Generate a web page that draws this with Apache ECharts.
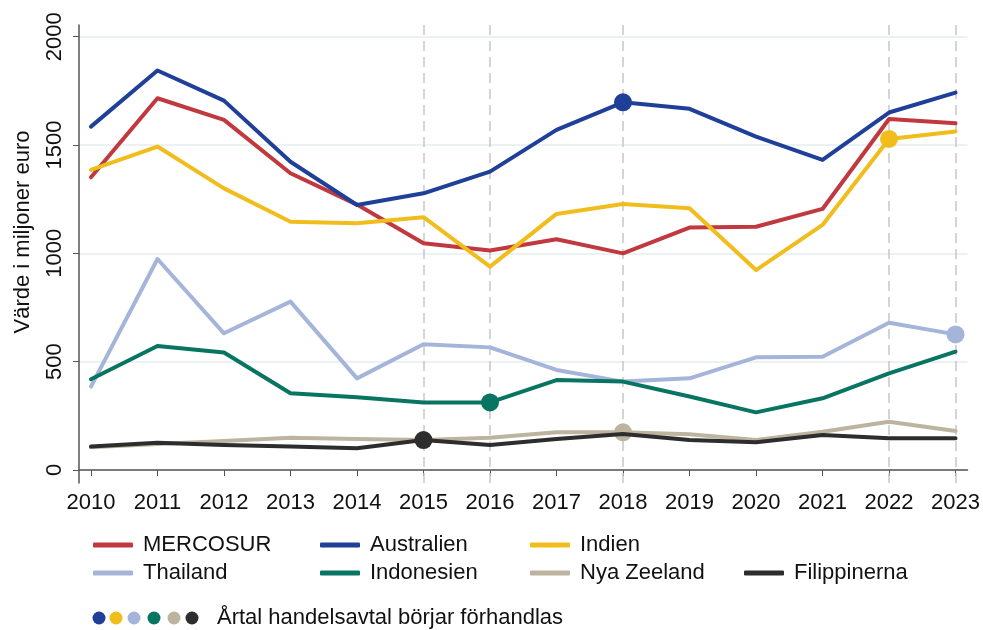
<!DOCTYPE html>
<html>
<head>
<meta charset="utf-8">
<script src="https://cdn.jsdelivr.net/npm/echarts@6/dist/echarts.min.js"></script>
<style>
html,body{margin:0;padding:0;background:#fff;}
#chart{width:983px;height:630px;}
</style>
</head>
<body>
<div id="chart"></div>
<script>
const years = [2010,2011,2012,2013,2014,2015,2016,2017,2018,2019,2020,2021,2022,2023];
const yTicks = [0,500,1000,1500,2000];
const seriesNames = ['MERCOSUR','Australien','Indien','Thailand','Indonesien','Nya Zeeland','Filippinerna'];
const mercosur    = [1351,1716,1616,1370,1225,1047,1013,1065,1000,1119,1123,1205,1620,1600];
const australien  = [1585,1844,1705,1423,1223,1277,1377,1570,1697,1667,1539,1431,1650,1742];
const indien      = [1385,1493,1300,1146,1139,1167, 939,1182,1228,1208, 923,1131,1528,1562];
const thailand    = [ 385, 974, 631, 777, 423, 580, 566, 462, 408, 423, 520, 523, 680, 626];
const indonesien  = [ 419, 572, 542, 354, 336, 312, 312, 415, 408, 339, 266, 331, 446, 546];
const nyaZeeland  = [ 105, 120, 134, 149, 143, 138, 149, 174, 174, 165, 138, 177, 223, 180];
const filippinerna= [ 108, 126, 115, 108, 100, 138, 115, 143, 166, 138, 128, 162, 146, 146];
// year negotiations started (null = none)
const negotiationYear = [null, 2018, 2022, 2023, 2016, 2018, 2015];
const legendDotOrder = [1,2,3,4,5,6];
const colors = ['#c0393f','#1f3f98','#f0bd1c','#a5b5da','#087562','#bdb49f','#2d2d2d'];
const allValues = [mercosur, australien, indien, thailand, indonesien, nyaZeeland, filippinerna];

const FONT = "'Liberation Sans', Arial, sans-serif";
const FS = 22;

const series = allValues.map((vals, si) => ({
  name: seriesNames[si],
  type: 'line',
  color: colors[si],
  symbol: 'none',
  lineStyle: {width: 4, color: colors[si], cap: 'round', join: 'round'},
  itemStyle: {color: colors[si]},
  emphasis: {disabled: true},
  z: 3 + si,
  data: years.map((y, i) => y === negotiationYear[si]
    ? {value: [y, vals[i]], symbol: 'circle', symbolSize: 18}
    : [y, vals[i]])
}));

const markYears = Array.from(new Set(negotiationYear.filter(v => v !== null))).sort();
series[0].markLine = {
  silent: true,
  symbol: ['none','none'],
  label: {show: false},
  lineStyle: {color: '#c8c8c8', width: 1.5, type: [10, 6]},
  z: 1,
  data: markYears.map(y => ({xAxis: y}))
};

const legendPos = [
  [93, 534], [320, 534], [530, 534],
  [93, 562], [320, 562], [530, 562], [744, 562]
];
const legends = seriesNames.map((n, i) => ({
  data: [n],
  left: legendPos[i][0],
  top: legendPos[i][1],
  padding: 0,
  itemWidth: 40,
  itemHeight: 5,
  icon: 'roundRect',
  selectedMode: false,
  textStyle: {fontFamily: FONT, fontSize: FS, color: '#111', padding: [0,0,0,5]}
}));

const dotX = [99, 116, 134, 154, 174, 192];
const graphics = legendDotOrder.map((si, k) => ({
  type: 'circle',
  shape: {cx: dotX[k], cy: 618, r: 6.5},
  style: {fill: colors[si]}
}));
graphics.push({
  type: 'text',
  x: 217, y: 618,
  style: {text: 'Årtal handelsavtal börjar förhandlas', font: FS + 'px ' + FONT, fill: '#111', verticalAlign: 'middle', textAlign: 'left'}
});

const chart = echarts.init(document.getElementById('chart'), null, {renderer: 'canvas'});
chart.setOption({
  animation: false,
  backgroundColor: '#fff',
  textStyle: {fontFamily: FONT},
  grid: {left: 79, right: 13, top: 25, bottom: 147, containLabel: false},
  legend: legends,
  xAxis: {
    type: 'value',
    min: 2009.82,
    max: 2023.18,
    axisLine: {show: true, lineStyle: {color: '#555', width: 1.5}},
    axisTick: {show: true, length: 6, customValues: years, lineStyle: {color: '#555'}},
    axisLabel: {customValues: years, formatter: v => String(v), fontFamily: FONT, fontSize: FS, color: '#111', margin: 9},
    splitLine: {show: false}
  },
  yAxis: {
    type: 'value',
    min: -60,
    max: 2054,
    name: 'Värde i miljoner euro',
    nameLocation: 'middle',
    nameRotate: 90,
    nameGap: 45,
    nameTextStyle: {fontFamily: FONT, fontSize: 22, color: '#111', padding: [0, 0, 0, 44]},
    axisLine: {show: true, lineStyle: {color: '#555', width: 1.5}},
    axisTick: {show: true, length: 6, customValues: yTicks, lineStyle: {color: '#555'}},
    axisLabel: {customValues: yTicks, formatter: v => String(v), rotate: 90, fontFamily: FONT, fontSize: FS, color: '#111', margin: 13},
    splitLine: {show: true, lineStyle: {color: '#e4eeef', width: 1.5}}
  },
  graphic: graphics,
  series: series
});
</script>
</body>
</html>
